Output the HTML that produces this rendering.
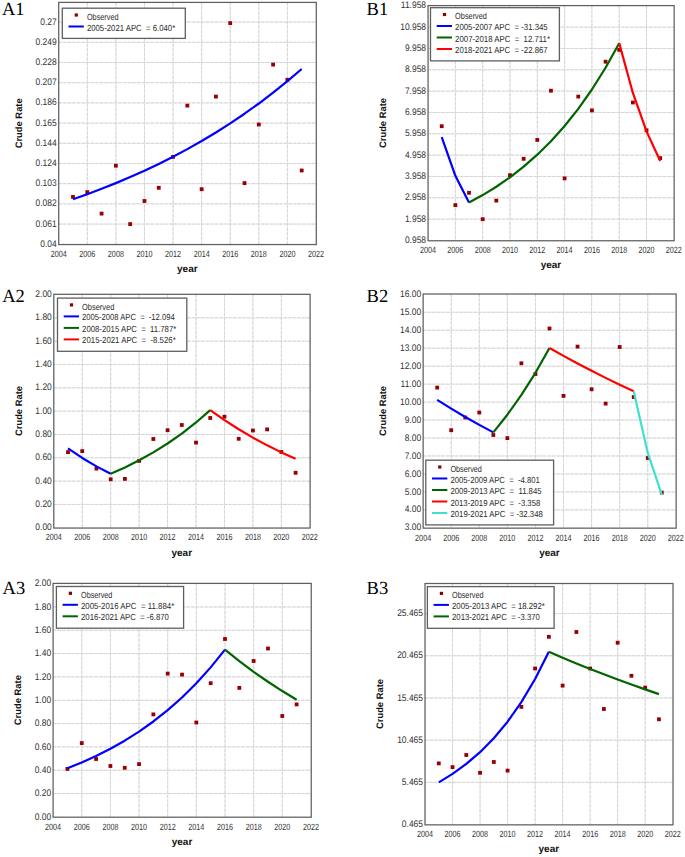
<!DOCTYPE html>
<html><head><meta charset="utf-8"><style>
html,body{margin:0;padding:0;background:#fff;}
svg{display:block;}
text{font-family:"Liberation Sans", sans-serif;text-rendering:geometricPrecision;}
.tky{font-size:9.5px;fill:#333;}
.tkx{font-size:9px;fill:#333;}
.lg{font-size:8.8px;fill:#2a2a2a;}
.yr{font-size:10px;font-weight:bold;fill:#111;}
.cr{font-size:9.4px;font-weight:bold;fill:#111;}
.pl{font-family:"Liberation Serif",serif;font-size:18.5px;fill:#000;}
</style></head><body>
<svg width="685" height="857" viewBox="0 0 685 857">
<rect width="685" height="857" fill="#fff"/>
<path d="M87.3,2.4V244.25 M115.88,2.4V244.25 M144.47,2.4V244.25 M173.05,2.4V244.25 M201.64,2.4V244.25 M230.22,2.4V244.25 M258.81,2.4V244.25 M287.39,2.4V244.25 M58.71,224.05H315.98 M58.71,203.86H315.98 M58.71,183.66H315.98 M58.71,163.47H315.98 M58.71,143.27H315.98 M58.71,123.07H315.98 M58.71,102.88H315.98 M58.71,82.68H315.98 M58.71,62.49H315.98 M58.71,42.29H315.98 M58.71,22.09H315.98" stroke="#e8e8e8" stroke-width="1" fill="none"/>
<path d="M87.3,2.4V244.25 M115.88,2.4V244.25 M144.47,2.4V244.25 M173.05,2.4V244.25 M201.64,2.4V244.25 M230.22,2.4V244.25 M258.81,2.4V244.25 M287.39,2.4V244.25 M58.71,224.05H315.98 M58.71,203.86H315.98 M58.71,183.66H315.98 M58.71,163.47H315.98 M58.71,143.27H315.98 M58.71,123.07H315.98 M58.71,102.88H315.98 M58.71,82.68H315.98 M58.71,62.49H315.98 M58.71,42.29H315.98 M58.71,22.09H315.98" stroke="#d5d5d5" stroke-width="1" stroke-dasharray="3 1.6" fill="none"/>
<text transform="translate(56.71,246.85) scale(0.89,1)" text-anchor="end" class="tky">0.04</text>
<text transform="translate(56.71,226.65) scale(0.89,1)" text-anchor="end" class="tky">0.061</text>
<text transform="translate(56.71,206.46) scale(0.89,1)" text-anchor="end" class="tky">0.082</text>
<text transform="translate(56.71,186.26) scale(0.89,1)" text-anchor="end" class="tky">0.103</text>
<text transform="translate(56.71,166.07) scale(0.89,1)" text-anchor="end" class="tky">0.124</text>
<text transform="translate(56.71,145.87) scale(0.89,1)" text-anchor="end" class="tky">0.144</text>
<text transform="translate(56.71,125.67) scale(0.89,1)" text-anchor="end" class="tky">0.165</text>
<text transform="translate(56.71,105.48) scale(0.89,1)" text-anchor="end" class="tky">0.186</text>
<text transform="translate(56.71,85.28) scale(0.89,1)" text-anchor="end" class="tky">0.207</text>
<text transform="translate(56.71,65.09) scale(0.89,1)" text-anchor="end" class="tky">0.228</text>
<text transform="translate(56.71,44.89) scale(0.89,1)" text-anchor="end" class="tky">0.249</text>
<text transform="translate(56.71,24.69) scale(0.89,1)" text-anchor="end" class="tky">0.27</text>
<text transform="translate(58.71,256.95) scale(0.8,1)" text-anchor="middle" class="tkx">2004</text>
<text transform="translate(87.3,256.95) scale(0.8,1)" text-anchor="middle" class="tkx">2006</text>
<text transform="translate(115.88,256.95) scale(0.8,1)" text-anchor="middle" class="tkx">2008</text>
<text transform="translate(144.47,256.95) scale(0.8,1)" text-anchor="middle" class="tkx">2010</text>
<text transform="translate(173.05,256.95) scale(0.8,1)" text-anchor="middle" class="tkx">2012</text>
<text transform="translate(201.64,256.95) scale(0.8,1)" text-anchor="middle" class="tkx">2014</text>
<text transform="translate(230.22,256.95) scale(0.8,1)" text-anchor="middle" class="tkx">2016</text>
<text transform="translate(258.81,256.95) scale(0.8,1)" text-anchor="middle" class="tkx">2018</text>
<text transform="translate(287.39,256.95) scale(0.8,1)" text-anchor="middle" class="tkx">2020</text>
<text transform="translate(315.98,256.95) scale(0.8,1)" text-anchor="middle" class="tkx">2022</text>
<text x="187.34" y="272.05" text-anchor="middle" class="yr">year</text>
<text transform="translate(21.6,123.33) rotate(-90)" text-anchor="middle" class="cr">Crude Rate</text>
<text x="2" y="14.6" class="pl">A1</text>
<rect x="71.1" y="195" width="3.8" height="3.8" fill="#970000"/>
<rect x="85.4" y="190.2" width="3.8" height="3.8" fill="#970000"/>
<rect x="99.69" y="211.7" width="3.8" height="3.8" fill="#970000"/>
<rect x="113.98" y="163.8" width="3.8" height="3.8" fill="#970000"/>
<rect x="128.27" y="222.2" width="3.8" height="3.8" fill="#970000"/>
<rect x="142.57" y="199.1" width="3.8" height="3.8" fill="#970000"/>
<rect x="156.86" y="185.9" width="3.8" height="3.8" fill="#970000"/>
<rect x="171.15" y="155" width="3.8" height="3.8" fill="#970000"/>
<rect x="185.45" y="103.7" width="3.8" height="3.8" fill="#970000"/>
<rect x="199.74" y="187.3" width="3.8" height="3.8" fill="#970000"/>
<rect x="214.03" y="94.7" width="3.8" height="3.8" fill="#970000"/>
<rect x="228.32" y="21.2" width="3.8" height="3.8" fill="#970000"/>
<rect x="242.62" y="181.2" width="3.8" height="3.8" fill="#970000"/>
<rect x="256.91" y="122.6" width="3.8" height="3.8" fill="#970000"/>
<rect x="271.2" y="62.7" width="3.8" height="3.8" fill="#970000"/>
<rect x="285.49" y="77.9" width="3.8" height="3.8" fill="#970000"/>
<rect x="299.79" y="168.6" width="3.8" height="3.8" fill="#970000"/>
<polyline points="73,199.22 87.3,194.17 101.59,188.81 115.88,183.12 130.17,177.09 144.47,170.7 158.76,163.92 173.05,156.73 187.35,149.11 201.64,141.03 215.93,132.46 230.22,123.37 244.52,113.73 258.81,103.51 273.1,92.68 287.39,81.19 301.69,69" stroke="#0000ff" stroke-width="2.2" fill="none" stroke-linejoin="round"/>
<rect x="58.71" y="2.4" width="257.57" height="242.15" fill="none" stroke="#5f5f5f" stroke-width="1.25"/>
<rect x="62.3" y="8.2" width="123" height="30.2" fill="#fff" stroke="#5f5f5f" stroke-width="1.3"/>
<rect x="74.7" y="13.4" width="3.2" height="3.2" fill="#8b0000"/>
<text x="86.9" y="19.7" class="lg" textLength="31.7" lengthAdjust="spacingAndGlyphs">Observed</text>
<path d="M68.5,26.5H83.8" stroke="#0000ff" stroke-width="2"/>
<text x="86.9" y="30.5" class="lg" xml:space="preserve" textLength="88.3" lengthAdjust="spacingAndGlyphs">2005-2021 APC  = 6.040*</text>
<path d="M455.37,5.6V240.45 M482.68,5.6V240.45 M509.99,5.6V240.45 M537.3,5.6V240.45 M564.6,5.6V240.45 M591.91,5.6V240.45 M619.22,5.6V240.45 M646.53,5.6V240.45 M428.06,219.12H673.84 M428.06,197.79H673.84 M428.06,176.46H673.84 M428.06,155.13H673.84 M428.06,133.8H673.84 M428.06,112.47H673.84 M428.06,91.14H673.84 M428.06,69.81H673.84 M428.06,48.48H673.84 M428.06,27.15H673.84" stroke="#e8e8e8" stroke-width="1" fill="none"/>
<path d="M455.37,5.6V240.45 M482.68,5.6V240.45 M509.99,5.6V240.45 M537.3,5.6V240.45 M564.6,5.6V240.45 M591.91,5.6V240.45 M619.22,5.6V240.45 M646.53,5.6V240.45 M428.06,219.12H673.84 M428.06,197.79H673.84 M428.06,176.46H673.84 M428.06,155.13H673.84 M428.06,133.8H673.84 M428.06,112.47H673.84 M428.06,91.14H673.84 M428.06,69.81H673.84 M428.06,48.48H673.84 M428.06,27.15H673.84" stroke="#d5d5d5" stroke-width="1" stroke-dasharray="3 1.6" fill="none"/>
<text transform="translate(426.06,243.05) scale(0.89,1)" text-anchor="end" class="tky">0.958</text>
<text transform="translate(426.06,221.72) scale(0.89,1)" text-anchor="end" class="tky">1.958</text>
<text transform="translate(426.06,200.39) scale(0.89,1)" text-anchor="end" class="tky">2.958</text>
<text transform="translate(426.06,179.06) scale(0.89,1)" text-anchor="end" class="tky">3.958</text>
<text transform="translate(426.06,157.73) scale(0.89,1)" text-anchor="end" class="tky">4.958</text>
<text transform="translate(426.06,136.4) scale(0.89,1)" text-anchor="end" class="tky">5.958</text>
<text transform="translate(426.06,115.07) scale(0.89,1)" text-anchor="end" class="tky">6.958</text>
<text transform="translate(426.06,93.74) scale(0.89,1)" text-anchor="end" class="tky">7.958</text>
<text transform="translate(426.06,72.41) scale(0.89,1)" text-anchor="end" class="tky">8.958</text>
<text transform="translate(426.06,51.08) scale(0.89,1)" text-anchor="end" class="tky">9.958</text>
<text transform="translate(426.06,29.75) scale(0.89,1)" text-anchor="end" class="tky">10.958</text>
<text transform="translate(426.06,8.42) scale(0.89,1)" text-anchor="end" class="tky">11.958</text>
<text transform="translate(428.06,253.15) scale(0.8,1)" text-anchor="middle" class="tkx">2004</text>
<text transform="translate(455.37,253.15) scale(0.8,1)" text-anchor="middle" class="tkx">2006</text>
<text transform="translate(482.68,253.15) scale(0.8,1)" text-anchor="middle" class="tkx">2008</text>
<text transform="translate(509.99,253.15) scale(0.8,1)" text-anchor="middle" class="tkx">2010</text>
<text transform="translate(537.3,253.15) scale(0.8,1)" text-anchor="middle" class="tkx">2012</text>
<text transform="translate(564.6,253.15) scale(0.8,1)" text-anchor="middle" class="tkx">2014</text>
<text transform="translate(591.91,253.15) scale(0.8,1)" text-anchor="middle" class="tkx">2016</text>
<text transform="translate(619.22,253.15) scale(0.8,1)" text-anchor="middle" class="tkx">2018</text>
<text transform="translate(646.53,253.15) scale(0.8,1)" text-anchor="middle" class="tkx">2020</text>
<text transform="translate(673.84,253.15) scale(0.8,1)" text-anchor="middle" class="tkx">2022</text>
<text x="550.95" y="268.25" text-anchor="middle" class="yr">year</text>
<text transform="translate(385.8,123.02) rotate(-90)" text-anchor="middle" class="cr">Crude Rate</text>
<text x="366.6" y="14.8" class="pl">B1</text>
<rect x="439.81" y="124.3" width="3.8" height="3.8" fill="#970000"/>
<rect x="453.47" y="203.2" width="3.8" height="3.8" fill="#970000"/>
<rect x="467.12" y="190.9" width="3.8" height="3.8" fill="#970000"/>
<rect x="480.78" y="217.3" width="3.8" height="3.8" fill="#970000"/>
<rect x="494.43" y="198.7" width="3.8" height="3.8" fill="#970000"/>
<rect x="508.09" y="173.3" width="3.8" height="3.8" fill="#970000"/>
<rect x="521.74" y="156.9" width="3.8" height="3.8" fill="#970000"/>
<rect x="535.4" y="138" width="3.8" height="3.8" fill="#970000"/>
<rect x="549.05" y="88.8" width="3.8" height="3.8" fill="#970000"/>
<rect x="562.7" y="176.5" width="3.8" height="3.8" fill="#970000"/>
<rect x="576.36" y="94.7" width="3.8" height="3.8" fill="#970000"/>
<rect x="590.01" y="108.5" width="3.8" height="3.8" fill="#970000"/>
<rect x="603.67" y="59.8" width="3.8" height="3.8" fill="#970000"/>
<rect x="617.32" y="48" width="3.8" height="3.8" fill="#970000"/>
<rect x="630.98" y="100.6" width="3.8" height="3.8" fill="#970000"/>
<rect x="644.63" y="128.4" width="3.8" height="3.8" fill="#970000"/>
<rect x="658.29" y="156.2" width="3.8" height="3.8" fill="#970000"/>
<polyline points="441.71,137.02 455.37,175.85 469.02,202.5" stroke="#0000ff" stroke-width="2.2" fill="none" stroke-linejoin="round"/>
<polyline points="469.02,202.5 482.68,195.08 496.33,186.72 509.99,177.29 523.64,166.66 537.3,154.69 550.95,141.19 564.6,125.97 578.26,108.83 591.91,89.5 605.57,67.72 619.22,43.16" stroke="#006400" stroke-width="2.2" fill="none" stroke-linejoin="round"/>
<polyline points="619.22,43.16 632.88,92.95 646.53,131.35 660.19,160.97" stroke="#ff0000" stroke-width="2.2" fill="none" stroke-linejoin="round"/>
<rect x="428.06" y="5.6" width="246.08" height="235.15" fill="none" stroke="#5f5f5f" stroke-width="1.25"/>
<rect x="430.5" y="7.7" width="128.9" height="53.2" fill="#fff" stroke="#5f5f5f" stroke-width="1.3"/>
<rect x="442.9" y="12.9" width="3.2" height="3.2" fill="#8b0000"/>
<text x="455.1" y="19.2" class="lg" textLength="31.8" lengthAdjust="spacingAndGlyphs">Observed</text>
<path d="M436.7,26H452" stroke="#0000ff" stroke-width="2"/>
<text x="455.1" y="30" class="lg" xml:space="preserve" textLength="92.6" lengthAdjust="spacingAndGlyphs">2005-2007 APC  = -31.345</text>
<path d="M436.7,37.5H452" stroke="#006400" stroke-width="2"/>
<text x="455.1" y="41.5" class="lg" xml:space="preserve" textLength="94.9" lengthAdjust="spacingAndGlyphs">2007-2018 APC  =  12.711*</text>
<path d="M436.7,49H452" stroke="#ff0000" stroke-width="2"/>
<text x="455.1" y="53" class="lg" xml:space="preserve" textLength="92.6" lengthAdjust="spacingAndGlyphs">2018-2021 APC  = -22.867</text>
<path d="M82.24,294.3V527.75 M110.68,294.3V527.75 M139.13,294.3V527.75 M167.58,294.3V527.75 M196.02,294.3V527.75 M224.47,294.3V527.75 M252.92,294.3V527.75 M281.36,294.3V527.75 M53.79,504.43H309.81 M53.79,481.11H309.81 M53.79,457.78H309.81 M53.79,434.46H309.81 M53.79,411.14H309.81 M53.79,387.82H309.81 M53.79,364.5H309.81 M53.79,341.17H309.81 M53.79,317.85H309.81" stroke="#e8e8e8" stroke-width="1" fill="none"/>
<path d="M82.24,294.3V527.75 M110.68,294.3V527.75 M139.13,294.3V527.75 M167.58,294.3V527.75 M196.02,294.3V527.75 M224.47,294.3V527.75 M252.92,294.3V527.75 M281.36,294.3V527.75 M53.79,504.43H309.81 M53.79,481.11H309.81 M53.79,457.78H309.81 M53.79,434.46H309.81 M53.79,411.14H309.81 M53.79,387.82H309.81 M53.79,364.5H309.81 M53.79,341.17H309.81 M53.79,317.85H309.81" stroke="#d5d5d5" stroke-width="1" stroke-dasharray="3 1.6" fill="none"/>
<text transform="translate(51.79,530.35) scale(0.89,1)" text-anchor="end" class="tky">0.00</text>
<text transform="translate(51.79,507.03) scale(0.89,1)" text-anchor="end" class="tky">0.20</text>
<text transform="translate(51.79,483.71) scale(0.89,1)" text-anchor="end" class="tky">0.40</text>
<text transform="translate(51.79,460.38) scale(0.89,1)" text-anchor="end" class="tky">0.60</text>
<text transform="translate(51.79,437.06) scale(0.89,1)" text-anchor="end" class="tky">0.80</text>
<text transform="translate(51.79,413.74) scale(0.89,1)" text-anchor="end" class="tky">1.00</text>
<text transform="translate(51.79,390.42) scale(0.89,1)" text-anchor="end" class="tky">1.20</text>
<text transform="translate(51.79,367.1) scale(0.89,1)" text-anchor="end" class="tky">1.40</text>
<text transform="translate(51.79,343.77) scale(0.89,1)" text-anchor="end" class="tky">1.60</text>
<text transform="translate(51.79,320.45) scale(0.89,1)" text-anchor="end" class="tky">1.80</text>
<text transform="translate(51.79,297.13) scale(0.89,1)" text-anchor="end" class="tky">2.00</text>
<text transform="translate(53.79,540.45) scale(0.8,1)" text-anchor="middle" class="tkx">2004</text>
<text transform="translate(82.24,540.45) scale(0.8,1)" text-anchor="middle" class="tkx">2006</text>
<text transform="translate(110.68,540.45) scale(0.8,1)" text-anchor="middle" class="tkx">2008</text>
<text transform="translate(139.13,540.45) scale(0.8,1)" text-anchor="middle" class="tkx">2010</text>
<text transform="translate(167.58,540.45) scale(0.8,1)" text-anchor="middle" class="tkx">2012</text>
<text transform="translate(196.02,540.45) scale(0.8,1)" text-anchor="middle" class="tkx">2014</text>
<text transform="translate(224.47,540.45) scale(0.8,1)" text-anchor="middle" class="tkx">2016</text>
<text transform="translate(252.92,540.45) scale(0.8,1)" text-anchor="middle" class="tkx">2018</text>
<text transform="translate(281.36,540.45) scale(0.8,1)" text-anchor="middle" class="tkx">2020</text>
<text transform="translate(309.81,540.45) scale(0.8,1)" text-anchor="middle" class="tkx">2022</text>
<text x="181.8" y="555.55" text-anchor="middle" class="yr">year</text>
<text transform="translate(21.6,411.02) rotate(-90)" text-anchor="middle" class="cr">Crude Rate</text>
<text x="2.2" y="301.9" class="pl">A2</text>
<rect x="66.11" y="450.2" width="3.8" height="3.8" fill="#970000"/>
<rect x="80.34" y="449.2" width="3.8" height="3.8" fill="#970000"/>
<rect x="94.56" y="466.7" width="3.8" height="3.8" fill="#970000"/>
<rect x="108.78" y="477.4" width="3.8" height="3.8" fill="#970000"/>
<rect x="123.01" y="477" width="3.8" height="3.8" fill="#970000"/>
<rect x="137.23" y="459" width="3.8" height="3.8" fill="#970000"/>
<rect x="151.45" y="437.1" width="3.8" height="3.8" fill="#970000"/>
<rect x="165.68" y="428.3" width="3.8" height="3.8" fill="#970000"/>
<rect x="179.9" y="423.1" width="3.8" height="3.8" fill="#970000"/>
<rect x="194.12" y="440.7" width="3.8" height="3.8" fill="#970000"/>
<rect x="208.35" y="416.1" width="3.8" height="3.8" fill="#970000"/>
<rect x="222.57" y="414.8" width="3.8" height="3.8" fill="#970000"/>
<rect x="236.79" y="436.9" width="3.8" height="3.8" fill="#970000"/>
<rect x="251.02" y="428.6" width="3.8" height="3.8" fill="#970000"/>
<rect x="265.24" y="427.5" width="3.8" height="3.8" fill="#970000"/>
<rect x="279.46" y="450.1" width="3.8" height="3.8" fill="#970000"/>
<rect x="293.69" y="470.9" width="3.8" height="3.8" fill="#970000"/>
<polyline points="68.01,448.33 82.24,457.93 96.46,466.38 110.68,473.8" stroke="#0000ff" stroke-width="2.2" fill="none" stroke-linejoin="round"/>
<polyline points="110.68,473.8 124.91,467.44 139.13,460.33 153.35,452.39 167.58,443.5 181.8,433.57 196.02,422.47 210.25,410.06" stroke="#006400" stroke-width="2.2" fill="none" stroke-linejoin="round"/>
<polyline points="210.25,410.06 224.47,420.1 238.69,429.28 252.92,437.67 267.14,445.35 281.36,452.38 295.59,458.8" stroke="#ff0000" stroke-width="2.2" fill="none" stroke-linejoin="round"/>
<rect x="53.79" y="294.3" width="256.32" height="233.75" fill="none" stroke="#5f5f5f" stroke-width="1.25"/>
<rect x="57.5" y="298.1" width="129.3" height="53.2" fill="#fff" stroke="#5f5f5f" stroke-width="1.3"/>
<rect x="69.9" y="303.3" width="3.2" height="3.2" fill="#8b0000"/>
<text x="82.1" y="309.6" class="lg" textLength="32.2" lengthAdjust="spacingAndGlyphs">Observed</text>
<path d="M63.7,316.4H79" stroke="#0000ff" stroke-width="2"/>
<text x="82.1" y="320.4" class="lg" xml:space="preserve" textLength="92.6" lengthAdjust="spacingAndGlyphs">2005-2008 APC  =  -12.094</text>
<path d="M63.7,327.9H79" stroke="#006400" stroke-width="2"/>
<text x="82.1" y="331.9" class="lg" xml:space="preserve" textLength="94.2" lengthAdjust="spacingAndGlyphs">2008-2015 APC  =  11.787*</text>
<path d="M63.7,339.4H79" stroke="#ff0000" stroke-width="2"/>
<text x="82.1" y="343.4" class="lg" xml:space="preserve" textLength="93.6" lengthAdjust="spacingAndGlyphs">2015-2021 APC  =  -8.526*</text>
<path d="M451.21,294V527.85 M479.29,294V527.85 M507.37,294V527.85 M535.45,294V527.85 M563.52,294V527.85 M591.6,294V527.85 M619.68,294V527.85 M647.76,294V527.85 M423.13,509.89H675.84 M423.13,491.92H675.84 M423.13,473.96H675.84 M423.13,455.99H675.84 M423.13,438.03H675.84 M423.13,420.06H675.84 M423.13,402.1H675.84 M423.13,384.13H675.84 M423.13,366.17H675.84 M423.13,348.2H675.84 M423.13,330.24H675.84 M423.13,312.27H675.84" stroke="#e8e8e8" stroke-width="1" fill="none"/>
<path d="M451.21,294V527.85 M479.29,294V527.85 M507.37,294V527.85 M535.45,294V527.85 M563.52,294V527.85 M591.6,294V527.85 M619.68,294V527.85 M647.76,294V527.85 M423.13,509.89H675.84 M423.13,491.92H675.84 M423.13,473.96H675.84 M423.13,455.99H675.84 M423.13,438.03H675.84 M423.13,420.06H675.84 M423.13,402.1H675.84 M423.13,384.13H675.84 M423.13,366.17H675.84 M423.13,348.2H675.84 M423.13,330.24H675.84 M423.13,312.27H675.84" stroke="#d5d5d5" stroke-width="1" stroke-dasharray="3 1.6" fill="none"/>
<text transform="translate(421.13,530.45) scale(0.89,1)" text-anchor="end" class="tky">3.00</text>
<text transform="translate(421.13,512.49) scale(0.89,1)" text-anchor="end" class="tky">4.00</text>
<text transform="translate(421.13,494.52) scale(0.89,1)" text-anchor="end" class="tky">5.00</text>
<text transform="translate(421.13,476.56) scale(0.89,1)" text-anchor="end" class="tky">6.00</text>
<text transform="translate(421.13,458.59) scale(0.89,1)" text-anchor="end" class="tky">7.00</text>
<text transform="translate(421.13,440.63) scale(0.89,1)" text-anchor="end" class="tky">8.00</text>
<text transform="translate(421.13,422.66) scale(0.89,1)" text-anchor="end" class="tky">9.00</text>
<text transform="translate(421.13,404.7) scale(0.89,1)" text-anchor="end" class="tky">10.00</text>
<text transform="translate(421.13,386.73) scale(0.89,1)" text-anchor="end" class="tky">11.00</text>
<text transform="translate(421.13,368.77) scale(0.89,1)" text-anchor="end" class="tky">12.00</text>
<text transform="translate(421.13,350.8) scale(0.89,1)" text-anchor="end" class="tky">13.00</text>
<text transform="translate(421.13,332.84) scale(0.89,1)" text-anchor="end" class="tky">14.00</text>
<text transform="translate(421.13,314.87) scale(0.89,1)" text-anchor="end" class="tky">15.00</text>
<text transform="translate(421.13,296.91) scale(0.89,1)" text-anchor="end" class="tky">16.00</text>
<text transform="translate(423.13,540.55) scale(0.8,1)" text-anchor="middle" class="tkx">2004</text>
<text transform="translate(451.21,540.55) scale(0.8,1)" text-anchor="middle" class="tkx">2006</text>
<text transform="translate(479.29,540.55) scale(0.8,1)" text-anchor="middle" class="tkx">2008</text>
<text transform="translate(507.37,540.55) scale(0.8,1)" text-anchor="middle" class="tkx">2010</text>
<text transform="translate(535.45,540.55) scale(0.8,1)" text-anchor="middle" class="tkx">2012</text>
<text transform="translate(563.52,540.55) scale(0.8,1)" text-anchor="middle" class="tkx">2014</text>
<text transform="translate(591.6,540.55) scale(0.8,1)" text-anchor="middle" class="tkx">2016</text>
<text transform="translate(619.68,540.55) scale(0.8,1)" text-anchor="middle" class="tkx">2018</text>
<text transform="translate(647.76,540.55) scale(0.8,1)" text-anchor="middle" class="tkx">2020</text>
<text transform="translate(675.84,540.55) scale(0.8,1)" text-anchor="middle" class="tkx">2022</text>
<text x="549.49" y="555.65" text-anchor="middle" class="yr">year</text>
<text transform="translate(385.8,410.93) rotate(-90)" text-anchor="middle" class="cr">Crude Rate</text>
<text x="366.6" y="302.2" class="pl">B2</text>
<rect x="435.27" y="385.7" width="3.8" height="3.8" fill="#970000"/>
<rect x="449.31" y="428.3" width="3.8" height="3.8" fill="#970000"/>
<rect x="463.35" y="415.6" width="3.8" height="3.8" fill="#970000"/>
<rect x="477.39" y="410.6" width="3.8" height="3.8" fill="#970000"/>
<rect x="491.43" y="433.1" width="3.8" height="3.8" fill="#970000"/>
<rect x="505.47" y="436.2" width="3.8" height="3.8" fill="#970000"/>
<rect x="519.51" y="361.4" width="3.8" height="3.8" fill="#970000"/>
<rect x="533.55" y="372.1" width="3.8" height="3.8" fill="#970000"/>
<rect x="547.59" y="326.6" width="3.8" height="3.8" fill="#970000"/>
<rect x="561.62" y="394" width="3.8" height="3.8" fill="#970000"/>
<rect x="575.66" y="344.7" width="3.8" height="3.8" fill="#970000"/>
<rect x="589.7" y="387.4" width="3.8" height="3.8" fill="#970000"/>
<rect x="603.74" y="401.7" width="3.8" height="3.8" fill="#970000"/>
<rect x="617.78" y="345.1" width="3.8" height="3.8" fill="#970000"/>
<rect x="631.82" y="395.1" width="3.8" height="3.8" fill="#970000"/>
<rect x="645.86" y="456.1" width="3.8" height="3.8" fill="#970000"/>
<rect x="659.9" y="490.7" width="3.8" height="3.8" fill="#970000"/>
<polyline points="437.17,399.92 451.21,408.65 465.25,416.96 479.29,424.87 493.33,432.4" stroke="#0000ff" stroke-width="2.2" fill="none" stroke-linejoin="round"/>
<polyline points="493.33,432.4 507.37,414.71 521.41,394.92 535.45,372.79 549.49,348.04" stroke="#006400" stroke-width="2.2" fill="none" stroke-linejoin="round"/>
<polyline points="549.49,348.04 563.52,355.89 577.56,363.48 591.6,370.8 605.64,377.89 619.68,384.73 633.72,391.35" stroke="#ff0000" stroke-width="2.2" fill="none" stroke-linejoin="round"/>
<polyline points="633.72,391.35 647.76,452.94 661.8,494.61" stroke="#40e0d0" stroke-width="2.2" fill="none" stroke-linejoin="round"/>
<rect x="423.13" y="294" width="253.01" height="234.15" fill="none" stroke="#5f5f5f" stroke-width="1.25"/>
<rect x="425.8" y="460.2" width="127.8" height="64.7" fill="#fff" stroke="#5f5f5f" stroke-width="1.3"/>
<rect x="438.2" y="465.4" width="3.2" height="3.2" fill="#8b0000"/>
<text x="450.4" y="471.7" class="lg" textLength="31.5" lengthAdjust="spacingAndGlyphs">Observed</text>
<path d="M432,478.5H447.3" stroke="#0000ff" stroke-width="2"/>
<text x="450.4" y="482.5" class="lg" xml:space="preserve" textLength="89.5" lengthAdjust="spacingAndGlyphs">2005-2009 APC  =  -4.801</text>
<path d="M432,490H447.3" stroke="#006400" stroke-width="2"/>
<text x="450.4" y="494" class="lg" xml:space="preserve" textLength="91.2" lengthAdjust="spacingAndGlyphs">2009-2013 APC  =  11.845</text>
<path d="M432,501.5H447.3" stroke="#ff0000" stroke-width="2"/>
<text x="450.4" y="505.5" class="lg" xml:space="preserve" textLength="89.9" lengthAdjust="spacingAndGlyphs">2013-2019 APC  =  -3.358</text>
<path d="M432,513H447.3" stroke="#40e0d0" stroke-width="2"/>
<text x="450.4" y="517" class="lg" xml:space="preserve" textLength="92.4" lengthAdjust="spacingAndGlyphs">2019-2021 APC  = -32.348</text>
<path d="M81.75,583.4V816.9 M110.4,583.4V816.9 M139.05,583.4V816.9 M167.7,583.4V816.9 M196.34,583.4V816.9 M224.99,583.4V816.9 M253.64,583.4V816.9 M282.29,583.4V816.9 M53.1,793.57H310.94 M53.1,770.24H310.94 M53.1,746.91H310.94 M53.1,723.58H310.94 M53.1,700.25H310.94 M53.1,676.92H310.94 M53.1,653.59H310.94 M53.1,630.26H310.94 M53.1,606.93H310.94" stroke="#e8e8e8" stroke-width="1" fill="none"/>
<path d="M81.75,583.4V816.9 M110.4,583.4V816.9 M139.05,583.4V816.9 M167.7,583.4V816.9 M196.34,583.4V816.9 M224.99,583.4V816.9 M253.64,583.4V816.9 M282.29,583.4V816.9 M53.1,793.57H310.94 M53.1,770.24H310.94 M53.1,746.91H310.94 M53.1,723.58H310.94 M53.1,700.25H310.94 M53.1,676.92H310.94 M53.1,653.59H310.94 M53.1,630.26H310.94 M53.1,606.93H310.94" stroke="#d5d5d5" stroke-width="1" stroke-dasharray="3 1.6" fill="none"/>
<text transform="translate(51.1,819.5) scale(0.89,1)" text-anchor="end" class="tky">0.00</text>
<text transform="translate(51.1,796.17) scale(0.89,1)" text-anchor="end" class="tky">0.20</text>
<text transform="translate(51.1,772.84) scale(0.89,1)" text-anchor="end" class="tky">0.40</text>
<text transform="translate(51.1,749.51) scale(0.89,1)" text-anchor="end" class="tky">0.60</text>
<text transform="translate(51.1,726.18) scale(0.89,1)" text-anchor="end" class="tky">0.80</text>
<text transform="translate(51.1,702.85) scale(0.89,1)" text-anchor="end" class="tky">1.00</text>
<text transform="translate(51.1,679.52) scale(0.89,1)" text-anchor="end" class="tky">1.20</text>
<text transform="translate(51.1,656.19) scale(0.89,1)" text-anchor="end" class="tky">1.40</text>
<text transform="translate(51.1,632.86) scale(0.89,1)" text-anchor="end" class="tky">1.60</text>
<text transform="translate(51.1,609.53) scale(0.89,1)" text-anchor="end" class="tky">1.80</text>
<text transform="translate(51.1,586.2) scale(0.89,1)" text-anchor="end" class="tky">2.00</text>
<text transform="translate(53.1,829.6) scale(0.8,1)" text-anchor="middle" class="tkx">2004</text>
<text transform="translate(81.75,829.6) scale(0.8,1)" text-anchor="middle" class="tkx">2006</text>
<text transform="translate(110.4,829.6) scale(0.8,1)" text-anchor="middle" class="tkx">2008</text>
<text transform="translate(139.05,829.6) scale(0.8,1)" text-anchor="middle" class="tkx">2010</text>
<text transform="translate(167.7,829.6) scale(0.8,1)" text-anchor="middle" class="tkx">2012</text>
<text transform="translate(196.34,829.6) scale(0.8,1)" text-anchor="middle" class="tkx">2014</text>
<text transform="translate(224.99,829.6) scale(0.8,1)" text-anchor="middle" class="tkx">2016</text>
<text transform="translate(253.64,829.6) scale(0.8,1)" text-anchor="middle" class="tkx">2018</text>
<text transform="translate(282.29,829.6) scale(0.8,1)" text-anchor="middle" class="tkx">2020</text>
<text transform="translate(310.94,829.6) scale(0.8,1)" text-anchor="middle" class="tkx">2022</text>
<text x="182.02" y="844.7" text-anchor="middle" class="yr">year</text>
<text transform="translate(20.65,700.15) rotate(-90)" text-anchor="middle" class="cr">Crude Rate</text>
<text x="2.6" y="593.7" class="pl">A3</text>
<rect x="65.52" y="767" width="3.8" height="3.8" fill="#970000"/>
<rect x="79.85" y="741.2" width="3.8" height="3.8" fill="#970000"/>
<rect x="94.17" y="757.1" width="3.8" height="3.8" fill="#970000"/>
<rect x="108.5" y="764.1" width="3.8" height="3.8" fill="#970000"/>
<rect x="122.82" y="765.9" width="3.8" height="3.8" fill="#970000"/>
<rect x="137.15" y="762.2" width="3.8" height="3.8" fill="#970000"/>
<rect x="151.47" y="712.5" width="3.8" height="3.8" fill="#970000"/>
<rect x="165.8" y="671.7" width="3.8" height="3.8" fill="#970000"/>
<rect x="180.12" y="672.7" width="3.8" height="3.8" fill="#970000"/>
<rect x="194.44" y="720.6" width="3.8" height="3.8" fill="#970000"/>
<rect x="208.77" y="681.3" width="3.8" height="3.8" fill="#970000"/>
<rect x="223.09" y="637.1" width="3.8" height="3.8" fill="#970000"/>
<rect x="237.42" y="686" width="3.8" height="3.8" fill="#970000"/>
<rect x="251.74" y="659.1" width="3.8" height="3.8" fill="#970000"/>
<rect x="266.07" y="646.6" width="3.8" height="3.8" fill="#970000"/>
<rect x="280.39" y="714.1" width="3.8" height="3.8" fill="#970000"/>
<rect x="294.72" y="702.5" width="3.8" height="3.8" fill="#970000"/>
<polyline points="67.42,768.25 81.75,762.47 96.07,756 110.4,748.77 124.72,740.67 139.05,731.61 153.37,721.48 167.7,710.14 182.02,697.45 196.34,683.25 210.67,667.37 224.99,649.6" stroke="#0000ff" stroke-width="2.2" fill="none" stroke-linejoin="round"/>
<polyline points="224.99,649.6 239.32,661.09 253.64,671.8 267.97,681.77 282.29,691.05 296.62,699.7" stroke="#006400" stroke-width="2.2" fill="none" stroke-linejoin="round"/>
<rect x="53.1" y="583.4" width="258.14" height="233.8" fill="none" stroke="#5f5f5f" stroke-width="1.25"/>
<rect x="56.4" y="586.5" width="127.2" height="41.7" fill="#fff" stroke="#5f5f5f" stroke-width="1.3"/>
<rect x="68.8" y="591.7" width="3.2" height="3.2" fill="#8b0000"/>
<text x="81" y="598" class="lg" textLength="31.4" lengthAdjust="spacingAndGlyphs">Observed</text>
<path d="M62.6,604.8H77.9" stroke="#0000ff" stroke-width="2"/>
<text x="81" y="608.8" class="lg" xml:space="preserve" textLength="93.2" lengthAdjust="spacingAndGlyphs">2005-2016 APC  = 11.884*</text>
<path d="M62.6,616.3H77.9" stroke="#006400" stroke-width="2"/>
<text x="81" y="620.3" class="lg" xml:space="preserve" textLength="87.9" lengthAdjust="spacingAndGlyphs">2016-2021 APC  = -6.870</text>
<path d="M452.54,583.5V824.55 M480.06,583.5V824.55 M507.58,583.5V824.55 M535.1,583.5V824.55 M562.62,583.5V824.55 M590.14,583.5V824.55 M617.66,583.5V824.55 M645.18,583.5V824.55 M425.02,782.35H672.7 M425.02,740.15H672.7 M425.02,697.95H672.7 M425.02,655.75H672.7 M425.02,613.55H672.7" stroke="#e8e8e8" stroke-width="1" fill="none"/>
<path d="M452.54,583.5V824.55 M480.06,583.5V824.55 M507.58,583.5V824.55 M535.1,583.5V824.55 M562.62,583.5V824.55 M590.14,583.5V824.55 M617.66,583.5V824.55 M645.18,583.5V824.55 M425.02,782.35H672.7 M425.02,740.15H672.7 M425.02,697.95H672.7 M425.02,655.75H672.7 M425.02,613.55H672.7" stroke="#d5d5d5" stroke-width="1" stroke-dasharray="3 1.6" fill="none"/>
<text transform="translate(423.02,827.15) scale(0.89,1)" text-anchor="end" class="tky">0.465</text>
<text transform="translate(423.02,784.95) scale(0.89,1)" text-anchor="end" class="tky">5.465</text>
<text transform="translate(423.02,742.75) scale(0.89,1)" text-anchor="end" class="tky">10.465</text>
<text transform="translate(423.02,700.55) scale(0.89,1)" text-anchor="end" class="tky">15.465</text>
<text transform="translate(423.02,658.35) scale(0.89,1)" text-anchor="end" class="tky">20.465</text>
<text transform="translate(423.02,616.15) scale(0.89,1)" text-anchor="end" class="tky">25.465</text>
<text transform="translate(425.02,837.25) scale(0.8,1)" text-anchor="middle" class="tkx">2004</text>
<text transform="translate(452.54,837.25) scale(0.8,1)" text-anchor="middle" class="tkx">2006</text>
<text transform="translate(480.06,837.25) scale(0.8,1)" text-anchor="middle" class="tkx">2008</text>
<text transform="translate(507.58,837.25) scale(0.8,1)" text-anchor="middle" class="tkx">2010</text>
<text transform="translate(535.1,837.25) scale(0.8,1)" text-anchor="middle" class="tkx">2012</text>
<text transform="translate(562.62,837.25) scale(0.8,1)" text-anchor="middle" class="tkx">2014</text>
<text transform="translate(590.14,837.25) scale(0.8,1)" text-anchor="middle" class="tkx">2016</text>
<text transform="translate(617.66,837.25) scale(0.8,1)" text-anchor="middle" class="tkx">2018</text>
<text transform="translate(645.18,837.25) scale(0.8,1)" text-anchor="middle" class="tkx">2020</text>
<text transform="translate(672.7,837.25) scale(0.8,1)" text-anchor="middle" class="tkx">2022</text>
<text x="548.86" y="852.35" text-anchor="middle" class="yr">year</text>
<text transform="translate(382.6,704.02) rotate(-90)" text-anchor="middle" class="cr">Crude Rate</text>
<text x="366.6" y="593.7" class="pl">B3</text>
<rect x="436.88" y="761.5" width="3.8" height="3.8" fill="#970000"/>
<rect x="450.64" y="765.2" width="3.8" height="3.8" fill="#970000"/>
<rect x="464.4" y="753.1" width="3.8" height="3.8" fill="#970000"/>
<rect x="478.16" y="770.9" width="3.8" height="3.8" fill="#970000"/>
<rect x="491.92" y="760.1" width="3.8" height="3.8" fill="#970000"/>
<rect x="505.68" y="768.7" width="3.8" height="3.8" fill="#970000"/>
<rect x="519.44" y="705" width="3.8" height="3.8" fill="#970000"/>
<rect x="533.2" y="666.6" width="3.8" height="3.8" fill="#970000"/>
<rect x="546.96" y="634.9" width="3.8" height="3.8" fill="#970000"/>
<rect x="560.72" y="683.7" width="3.8" height="3.8" fill="#970000"/>
<rect x="574.48" y="630.1" width="3.8" height="3.8" fill="#970000"/>
<rect x="588.24" y="666.6" width="3.8" height="3.8" fill="#970000"/>
<rect x="602" y="707.1" width="3.8" height="3.8" fill="#970000"/>
<rect x="615.76" y="640.8" width="3.8" height="3.8" fill="#970000"/>
<rect x="629.52" y="673.9" width="3.8" height="3.8" fill="#970000"/>
<rect x="643.28" y="685.7" width="3.8" height="3.8" fill="#970000"/>
<rect x="657.04" y="717.4" width="3.8" height="3.8" fill="#970000"/>
<polyline points="438.78,782.36 452.54,773.93 466.3,763.95 480.06,752.15 493.82,738.19 507.58,721.68 521.34,702.14 535.1,679.03 548.86,651.7" stroke="#0000ff" stroke-width="2.2" fill="none" stroke-linejoin="round"/>
<polyline points="548.86,651.7 562.62,657.66 576.38,663.41 590.14,668.98 603.9,674.35 617.66,679.54 631.42,684.56 645.18,689.41 658.94,694.1" stroke="#006400" stroke-width="2.2" fill="none" stroke-linejoin="round"/>
<rect x="425.02" y="583.5" width="247.98" height="241.35" fill="none" stroke="#5f5f5f" stroke-width="1.25"/>
<rect x="427.4" y="586.6" width="126.7" height="41.7" fill="#fff" stroke="#5f5f5f" stroke-width="1.3"/>
<rect x="439.8" y="591.8" width="3.2" height="3.2" fill="#8b0000"/>
<text x="452" y="598.1" class="lg" textLength="31.6" lengthAdjust="spacingAndGlyphs">Observed</text>
<path d="M433.6,604.9H448.9" stroke="#0000ff" stroke-width="2"/>
<text x="452" y="608.9" class="lg" xml:space="preserve" textLength="92.8" lengthAdjust="spacingAndGlyphs">2005-2013 APC  = 18.292*</text>
<path d="M433.6,616.4H448.9" stroke="#006400" stroke-width="2"/>
<text x="452" y="620.4" class="lg" xml:space="preserve" textLength="87.9" lengthAdjust="spacingAndGlyphs">2013-2021 APC  = -3.370</text>
</svg>
</body></html>
